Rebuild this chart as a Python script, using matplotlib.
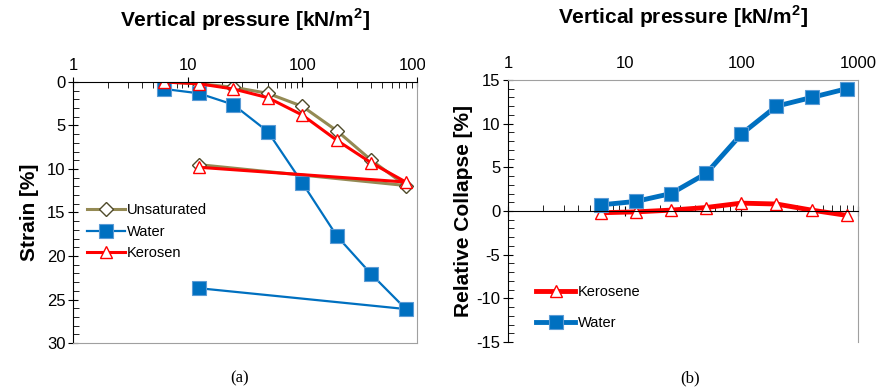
import matplotlib
matplotlib.use("Agg")
import matplotlib.pyplot as plt
from matplotlib.ticker import LogLocator, MultipleLocator, FixedLocator, NullFormatter
from matplotlib.transforms import Bbox, TransformedBbox

plt.rcParams.update({"font.family": "Liberation Sans", "font.size": 12,
                     "axes.unicode_minus": False,
                     "mathtext.fontset": "custom", "mathtext.rm": "Liberation Sans",
                     "mathtext.bf": "Liberation Sans:bold"})

# loading path 6.25 -> 800 kPa, then unloading back to 12.5 kPa
pressure = [6.25, 12.5, 25, 50, 100, 200, 400, 800, 12.5]
strain_unsat = [0.0, 0.2, 0.6, 1.3, 2.8, 5.6, 9.0, 11.9, 9.5]
strain_water = [0.8, 1.3, 2.6, 5.7, 11.6, 17.7, 22.1, 26.1, 23.7]
strain_kero = [0.0, 0.2, 0.8, 1.8, 3.8, 6.7, 9.3, 11.5, 9.8]

pressure_b = [6.25, 12.5, 25, 50, 100, 200, 400, 800]
collapse_kero = [-0.2, -0.1, 0.1, 0.4, 0.9, 0.8, 0.1, -0.5]
collapse_water = [0.7, 1.1, 2.0, 4.3, 8.8, 12.0, 13.0, 14.0]

OLIVE = "#948a54"
BLUE = "#0070c0"
RED = "#ff0000"
GRAY = "#a0a0a0"
TITLE = r"Vertical pressure [kN/m$^\mathbf{2}$]"

fig = plt.figure(figsize=(8.8, 3.88), dpi=100)
ax1 = fig.add_axes([73 / 880, 45 / 388, 344 / 880, 261 / 388])
ax2 = fig.add_axes([508 / 880, 46 / 388, 350 / 880, 262 / 388])


def log_x(ax):
    ax.set_xscale("log")
    ax.set_xlim(1, 1000)
    ax.xaxis.set_major_locator(FixedLocator([1, 10, 100, 1000]))
    ax.xaxis.set_minor_locator(LogLocator(base=10, subs=range(2, 10)))
    ax.xaxis.set_minor_formatter(NullFormatter())
    ax.set_xticklabels(["1", "10", "100", "1000"])


def ticks_style(ax):
    ax.yaxis.set_major_locator(MultipleLocator(5))
    ax.yaxis.set_minor_locator(MultipleLocator(1))
    ax.tick_params(which="major", direction="inout", length=7, labelsize=12)
    ax.tick_params(which="minor", direction="in", length=4)
    ax.tick_params(axis="y", pad=2)


# ---------------------------------------------------------------- (a) strain
log_x(ax1)
ax1.plot(pressure, strain_unsat, color=OLIVE, lw=2.2, marker="D", ms=7,
         mfc="white", mec="#4f4a2a", mew=1.0, label="Unsaturated")
ax1.plot(pressure, strain_water, color=BLUE, lw=1.6, marker="s", ms=10,
         mfc=BLUE, mec="#5b9bd5", mew=0.8, label="Water")
ax1.plot(pressure, strain_kero, color=RED, lw=2.2, marker="^", ms=9,
         mfc="white", mec=RED, mew=1.0, label="Kerosen")
ax1.set_ylim(30, 0)
ax1.xaxis.tick_top()
ticks_style(ax1)
ax1.tick_params(axis="x", pad=3)
for s in ("top", "left"):
    ax1.spines[s].set_color("black")
for s in ("right", "bottom"):
    ax1.spines[s].set_color(GRAY)
ax1.set_ylabel("Strain [%]", fontsize=15, fontweight="bold")
ax1.yaxis.set_label_coords(-0.1, 0.5)
ax1.text(0.5, 1.24, TITLE, transform=ax1.transAxes,
         ha="center", va="center", fontsize=15, fontweight="bold")
ax1.legend(loc="upper left", bbox_to_anchor=(0.04, 0.535), frameon=False,
           borderaxespad=0, borderpad=0, handlelength=2.6, handletextpad=0.15,
           labelspacing=0.5, fontsize=10.5)
# the "1000" label is cut off by the chart frame in the original
clip = TransformedBbox(Bbox([[0, 0], [425 / 880, 1]]), fig.transFigure)
for lbl in ax1.get_xticklabels():
    lbl.set_clip_box(clip)
    lbl.set_clip_on(True)

# ------------------------------------------------------- (b) relative collapse
log_x(ax2)
ax2.plot(pressure_b, collapse_kero, color=RED, lw=3.5, marker="^", ms=9,
         mfc="white", mec=RED, mew=1.0, label="Kerosene")
ax2.plot(pressure_b, collapse_water, color=BLUE, lw=3.5, marker="s", ms=10,
         mfc=BLUE, mec="#5b9bd5", mew=0.8, label="Water")
ax2.set_ylim(-15, 15)
ax2.spines["bottom"].set_position(("data", 0))
ax2.spines["bottom"].set_color("black")
ax2.spines["left"].set_color("black")
ax2.spines["top"].set_color(GRAY)
ax2.spines["right"].set_color(GRAY)
ticks_style(ax2)
ax2.tick_params(axis="x", which="both", bottom=True, top=False,
                labelbottom=False, labeltop=True, pad=3)
ax2.set_ylabel("Relative Collapse [%]", fontsize=15, fontweight="bold")
ax2.yaxis.set_label_coords(-0.1, 0.5)
ax2.text(0.5, 1.24, TITLE, transform=ax2.transAxes,
         ha="center", va="center", fontsize=15, fontweight="bold")
ax2.legend(loc="upper left", bbox_to_anchor=(0.08, 0.218), frameon=False,
           borderaxespad=0, borderpad=0, handlelength=2.7, handletextpad=0.15,
           labelspacing=1.2, fontsize=10.5)

fig.text(240 / 880, 1 - 378 / 388, "(a)", ha="center", va="center",
         family="Liberation Serif", fontsize=12)
fig.text(690 / 880, 1 - 378 / 388, "(b)", ha="center", va="center",
         family="Liberation Serif", fontsize=12)

fig.savefig("out.png", dpi=100)
